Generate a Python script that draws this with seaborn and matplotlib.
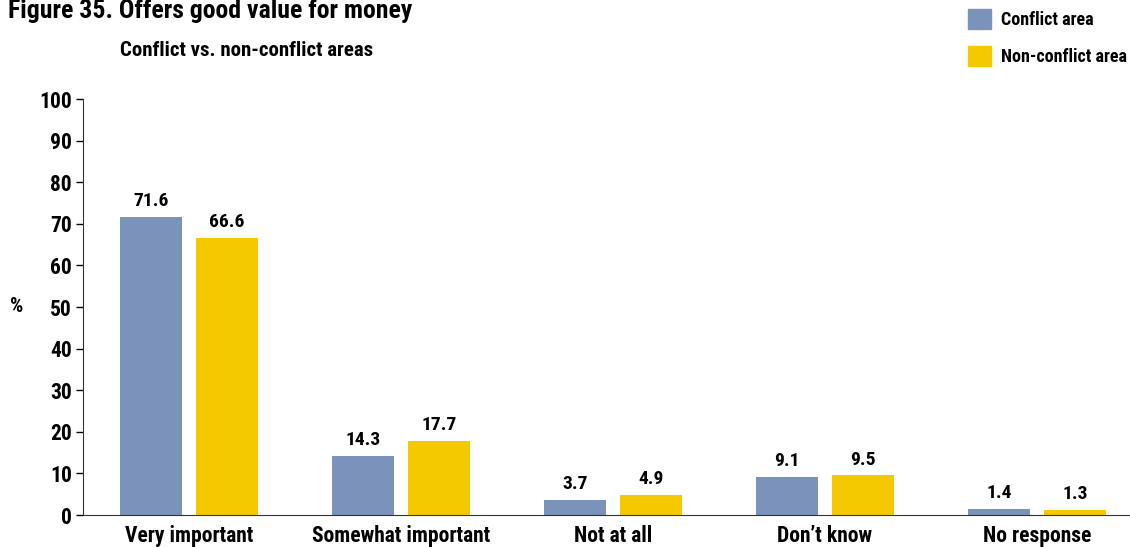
import pandas as pd
import matplotlib
matplotlib.use('Agg')
import matplotlib.pyplot as plt
import matplotlib.patches as mpatches
from matplotlib import font_manager
import seaborn as sns

categories = ['Very important', 'Somewhat important', 'Not at all', 'Don\u2019t know', 'No response']
conflict = [71.6, 14.3, 3.7, 9.1, 1.4]
non_conflict = [66.6, 17.7, 4.9, 9.5, 1.3]
series = ['Conflict area', 'Non-conflict area']
colors = ['#7b92ba', '#f5c900']
y_ticks = [0, 10, 20, 30, 40, 50, 60, 70, 80, 90, 100]

df = pd.DataFrame({
    'category': categories * 2,
    'value': conflict + non_conflict,
    'area': [series[0]] * len(categories) + [series[1]] * len(categories),
})

sns.set_style('white')
names = {f.name for f in font_manager.fontManager.ttflist}
fams = [n for n in ['Liberation Sans Narrow', 'Roboto Condensed', 'Open Sans Condensed'] if n in names]
plt.rcParams['font.family'] = fams + ['DejaVu Sans']
plt.rcParams['font.stretch'] = 'condensed'
plt.rcParams['font.weight'] = 'bold'
plt.rcParams['text.color'] = 'black'
plt.rcParams['xtick.color'] = 'black'
plt.rcParams['ytick.color'] = 'black'

fig = plt.figure(figsize=(11.3, 5.47), dpi=100)
ax = fig.add_axes([83 / 1130, (547 - 515) / 547, 1060 / 1130, 416 / 547])

sns.barplot(data=df, x='category', y='value', hue='area', palette=colors,
            width=0.717, gap=0.184, ax=ax, legend=False, saturation=1, linewidth=0)

for cont in ax.containers:
    ax.bar_label(cont, fmt='%.1f', padding=5, fontsize=14, fontweight='bold')

ax.set_xlim(-0.5, 4.5)
ax.set_ylim(0, 100)
ax.set_yticks(y_ticks)
ax.tick_params(axis='y', length=5, width=1, labelsize=15.5, pad=3, direction='out', left=True)
ax.tick_params(axis='x', length=0, labelsize=15.5, pad=7)
for lbl in ax.get_xticklabels() + ax.get_yticklabels():
    lbl.set_fontweight('bold')
ax.set_xlabel('')
ax.set_ylabel('')
sns.despine(ax=ax, top=True, right=True)
ax.spines['left'].set_color('#333333')
ax.spines['bottom'].set_color('#333333')

fig.text(17 / 1130, 1 - 307 / 547, '%', fontsize=15, fontweight='bold', ha='center', va='center')
fig.text(8 / 1130, 1 - 11 / 547, 'Figure 35. Offers good value for money', fontsize=18.5,
         fontweight='bold', ha='left', va='center')
fig.text(120 / 1130, 1 - 50 / 547, 'Conflict vs. non-conflict areas', fontsize=15,
         fontweight='bold', ha='left', va='center')

handles = [mpatches.Patch(color=c, label=s) for c, s in zip(colors, series)]
fig.legend(handles=handles, loc='upper left', bbox_to_anchor=(968 / 1130, 1 - 9 / 547),
           frameon=False, handlelength=1.3, handleheight=1.3, borderpad=0,
           borderaxespad=0, handletextpad=0.55, labelspacing=0.95,
           prop={'weight': 'bold', 'size': 13, 'stretch': 'condensed'})

fig.savefig('out.png', dpi=100)
